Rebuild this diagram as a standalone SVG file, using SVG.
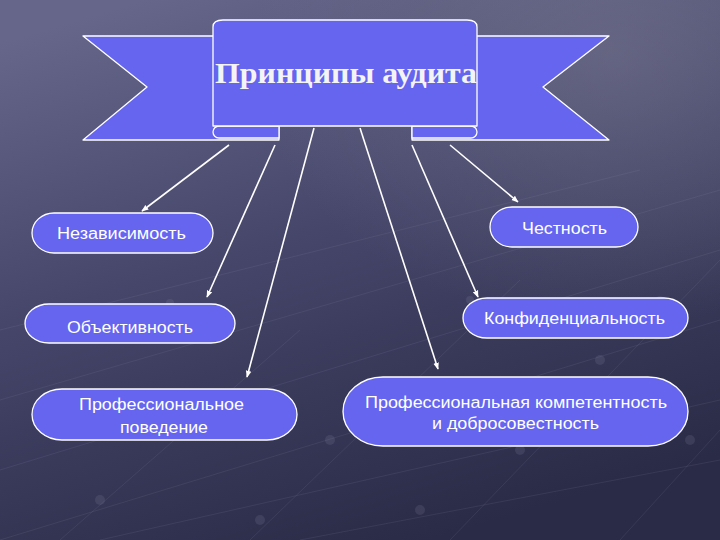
<svg xmlns="http://www.w3.org/2000/svg" width="720" height="540" viewBox="0 0 720 540">
  <defs>
    <linearGradient id="bg" x1="0.2" y1="0" x2="0.6" y2="1">
      <stop offset="0" stop-color="#65668a"/>
      <stop offset="0.45" stop-color="#45466a"/>
      <stop offset="1" stop-color="#2a2b46"/>
    </linearGradient>
    <radialGradient id="glow" cx="0.85" cy="0.1" r="0.5">
      <stop offset="0" stop-color="#7a7a90" stop-opacity="0.5"/>
      <stop offset="1" stop-color="#7a7a90" stop-opacity="0"/>
    </radialGradient>
    <marker id="arr" viewBox="0 0 10 10" refX="9" refY="5" markerWidth="7" markerHeight="7" orient="auto" markerUnits="userSpaceOnUse">
      <path d="M0,1 L10,5 L0,9 Z" fill="#ffffff"/>
    </marker>
  </defs>
  <style>
    .shape { fill: #6565f0; stroke: #ffffff; stroke-width: 1.3; stroke-linejoin: round; }
    .lbl { font-family: "Liberation Sans", Arial, sans-serif; font-size: 16px; fill: #ffffff; text-anchor: middle; }
    .title { font-family: "Liberation Serif", "Times New Roman", serif; font-size: 29px; font-weight: bold; fill: #f4f4f4; text-anchor: middle; }
    .conn line { stroke: #ffffff; stroke-width: 1.6; marker-end: url(#arr); }
    .grid line { stroke: #9a9ab8; stroke-width: 1; opacity: 0.12; }
    .grid circle { fill: #8a8aa8; opacity: 0.18; }
  </style>

  <rect x="0" y="0" width="720" height="540" fill="url(#bg)"/>
  <rect x="0" y="0" width="720" height="540" fill="url(#glow)"/>

  <g class="grid">
    <line x1="0" y1="470" x2="720" y2="250"/>
    <line x1="0" y1="400" x2="720" y2="190"/>
    <line x1="0" y1="540" x2="720" y2="320"/>
    <line x1="100" y1="540" x2="720" y2="400"/>
    <line x1="300" y1="540" x2="720" y2="460"/>
    <line x1="0" y1="330" x2="640" y2="170"/>
    <line x1="60" y1="540" x2="300" y2="330"/>
    <line x1="250" y1="540" x2="520" y2="280"/>
    <line x1="450" y1="540" x2="720" y2="260"/>
    <line x1="620" y1="540" x2="720" y2="430"/>
    <circle cx="100" cy="500" r="5"/>
    <circle cx="170" cy="303" r="4"/>
    <circle cx="330" cy="440" r="5"/>
    <circle cx="260" cy="520" r="5"/>
    <circle cx="520" cy="450" r="5"/>
    <circle cx="470" cy="300" r="4"/>
    <circle cx="600" cy="360" r="5"/>
    <circle cx="660" cy="300" r="4"/>
    <circle cx="420" cy="510" r="5"/>
    <circle cx="690" cy="440" r="5"/>
  </g>

  <g id="banner">
    <path class="shape" d="M83,36 L279,36 L279,140 L83,140 L147,87 Z"/>
    <path class="shape" d="M609,36 L412,36 L412,140 L609,140 L543,87 Z"/>
    <path class="shape" d="M279,126 L219,126 A6,6 0 0 0 219,138 L279,138 Z"/>
    <path class="shape" d="M412,126 L471,126 A6,6 0 0 1 471,138 L412,138 Z"/>
    <path class="shape" d="M213,126 L213,27 Q213,20 223,20 L467,20 Q477,20 477,27 L477,126 Z"/>
    <text class="title" x="346" y="83" textLength="262" lengthAdjust="spacingAndGlyphs">Принципы аудита</text>
  </g>

  <g class="conn">
    <line x1="229" y1="145" x2="142" y2="211"/>
    <line x1="275" y1="145" x2="207" y2="297"/>
    <line x1="314" y1="128" x2="247" y2="377"/>
    <line x1="360" y1="128" x2="438" y2="369"/>
    <line x1="412" y1="145" x2="478" y2="297"/>
    <line x1="450" y1="145" x2="518" y2="202"/>
  </g>

  <g id="n-nezavisimost">
    <rect class="shape" x="32" y="213" width="181" height="40" rx="22" ry="20"/>
    <text class="lbl" x="121.5" y="239" textLength="129" lengthAdjust="spacingAndGlyphs">Независимость</text>
  </g>

  <g id="n-obektivnost">
    <rect class="shape" x="25" y="304" width="210" height="39" rx="24" ry="19.5"/>
    <text class="lbl" x="130" y="333" textLength="126" lengthAdjust="spacingAndGlyphs">Объективность</text>
  </g>

  <g id="n-povedenie">
    <rect class="shape" x="32" y="389" width="265" height="51" rx="30" ry="25.5"/>
    <text class="lbl" x="161.5" y="410" textLength="165" lengthAdjust="spacingAndGlyphs">Профессиональное</text>
    <text class="lbl" x="164" y="433" textLength="88" lengthAdjust="spacingAndGlyphs">поведение</text>
  </g>

  <g id="n-chestnost">
    <rect class="shape" x="490" y="207" width="148" height="40" rx="22" ry="20"/>
    <text class="lbl" x="564.5" y="234" textLength="85" lengthAdjust="spacingAndGlyphs">Честность</text>
  </g>

  <g id="n-konfidencialnost">
    <rect class="shape" x="463" y="298" width="225" height="40" rx="24" ry="20"/>
    <text class="lbl" x="574.5" y="324" textLength="181" lengthAdjust="spacingAndGlyphs">Конфиденциальность</text>
  </g>

  <g id="n-kompetentnost">
    <rect class="shape" x="343" y="377" width="345" height="69" rx="40" ry="34.5"/>
    <text class="lbl" x="516" y="408" textLength="302" lengthAdjust="spacingAndGlyphs">Профессиональная компетентность</text>
    <text class="lbl" x="515.5" y="429" textLength="167" lengthAdjust="spacingAndGlyphs">и добросовестность</text>
  </g>
</svg>
